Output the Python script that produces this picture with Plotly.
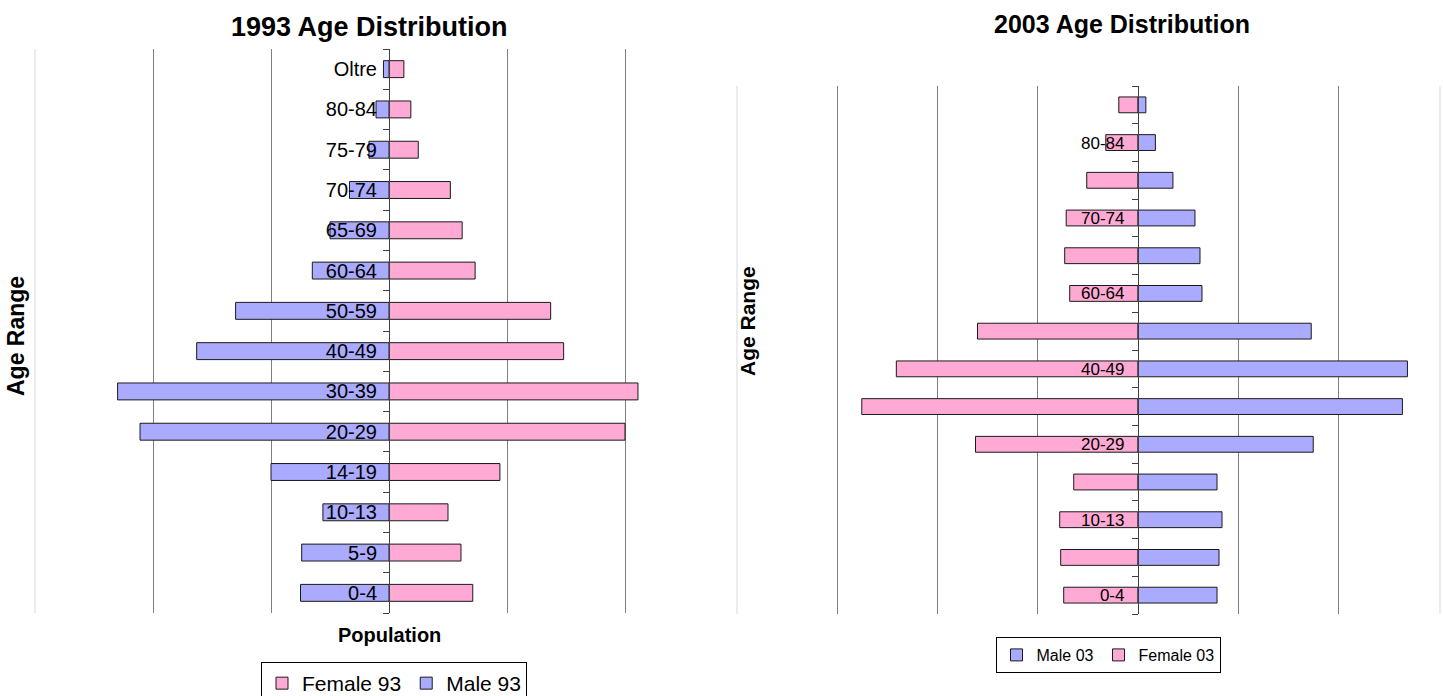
import plotly.graph_objects as go

# Age bands, bottom to top
age_bands = ["0-4", "5-9", "10-13", "14-19", "20-29", "30-39", "40-49",
             "50-59", "60-64", "65-69", "70-74", "75-79", "80-84", "Oltre"]

# 1993 population (thousands); males plotted to the left
male_93 = [0.75, 0.74, 0.56, 1.00, 2.11, 2.30, 1.63, 1.30, 0.65, 0.50, 0.335, 0.17, 0.11, 0.047]
female_93 = [0.71, 0.61, 0.50, 0.94, 2.00, 2.11, 1.48, 1.37, 0.73, 0.62, 0.52, 0.248, 0.185, 0.126]

# 2003 population (thousands); females plotted to the left
male_03 = [0.79, 0.81, 0.84, 0.79, 1.75, 2.64, 2.69, 1.73, 0.64, 0.62, 0.57, 0.35, 0.175, 0.08]
female_03 = [0.74, 0.77, 0.78, 0.64, 1.62, 2.755, 2.41, 1.60, 0.68, 0.73, 0.715, 0.51, 0.32, 0.19]

# 2003 chart only labels every other band
labels_03 = ["0-4", "", "10-13", "", "20-29", "", "40-49",
             "", "60-64", "", "70-74", "", "80-84", ""]

W, H = 1443, 696
BLUE = "#AAAAFF"
PINK = "#FFAAD4"
OUTLINE = "#1a1a1a"
GRID = "#7f7f7f"
EDGE = "#d9d9d9"
AXIS = "#404040"
FONT = "Liberation Sans, Arial, sans-serif"

# plot areas (paper fractions)
rng_x1 = [-3, 2.15]
dom_x1 = [35 / W, (35 + 118 * (rng_x1[1] - rng_x1[0])) / W]
dom_y1 = [(H - 613) / H, (H - 49) / H]
rng_x2 = [-4, 3.015]
dom_x2 = [737 / W, 1440 / W]
dom_y2 = [(H - 614) / H, (H - 86) / H]


def zero_pos(dom, rng):
    """Paper x-position where the value axis crosses zero."""
    return dom[0] + (0 - rng[0]) / (rng[1] - rng[0]) * (dom[1] - dom[0])


fig = go.Figure()
bar_w = 0.42
line = dict(color=OUTLINE, width=1)

fig.add_trace(go.Bar(y=age_bands, x=female_93, orientation="h", name="Female 93",
                     marker=dict(color=PINK, line=line), width=bar_w,
                     xaxis="x", yaxis="y", legend="legend"))
fig.add_trace(go.Bar(y=age_bands, x=[-v for v in male_93], orientation="h", name="Male 93",
                     marker=dict(color=BLUE, line=line), width=bar_w,
                     xaxis="x", yaxis="y", legend="legend"))
fig.add_trace(go.Bar(y=age_bands, x=male_03, orientation="h", name="Male 03",
                     marker=dict(color=BLUE, line=line), width=bar_w,
                     xaxis="x2", yaxis="y2", legend="legend2"))
fig.add_trace(go.Bar(y=age_bands, x=[-v for v in female_03], orientation="h", name="Female 03",
                     marker=dict(color=PINK, line=line), width=bar_w,
                     xaxis="x2", yaxis="y2", legend="legend2"))

xcommon = dict(showticklabels=False, ticks="", showline=False, zeroline=False,
               showgrid=True, gridcolor=GRID, gridwidth=1, tickmode="array")
ycommon = dict(type="category", categoryorder="array", categoryarray=age_bands,
               showgrid=False, zeroline=False, showline=True, linecolor=AXIS,
               linewidth=1, ticks="outside", ticklen=6, tickcolor=AXIS,
               tickson="boundaries", anchor="free", layer="above traces")

fig.update_layout(
    width=W, height=H,
    margin=dict(l=0, r=0, t=0, b=0, autoexpand=False),
    paper_bgcolor="white", plot_bgcolor="white",
    barmode="overlay",
    showlegend=True,
    xaxis=dict(domain=dom_x1, range=rng_x1, tickvals=[-2, -1, 1, 2], anchor="y", **xcommon),
    yaxis=dict(domain=dom_y1, position=zero_pos(dom_x1, rng_x1), ticklabelstandoff=8,
               tickfont=dict(family=FONT, size=20, color="black"), **ycommon),
    xaxis2=dict(domain=dom_x2, range=rng_x2, tickvals=[-3, -2, -1, 1, 2], anchor="y2", **xcommon),
    yaxis2=dict(domain=dom_y2, position=zero_pos(dom_x2, rng_x2), ticklabelstandoff=10,
                tickvals=age_bands, ticktext=labels_03,
                tickfont=dict(family=FONT, size=17, color="black"), **ycommon),
    legend=dict(orientation="h", x=394 / W, xanchor="center", y=(H - 662) / H, yanchor="top",
                bordercolor="black", borderwidth=1, bgcolor="white",
                font=dict(family=FONT, size=21, color="black"), traceorder="normal"),
    legend2=dict(orientation="h", x=1108 / W, xanchor="center", y=(H - 637) / H, yanchor="top",
                 bordercolor="black", borderwidth=1, bgcolor="white",
                 font=dict(family=FONT, size=16, color="black"), traceorder="normal"),
    annotations=[
        dict(text="<b>1993 Age Distribution</b>", x=369 / W, y=(H - 27) / H, xref="paper", yref="paper",
             showarrow=False, xanchor="center", yanchor="middle",
             font=dict(family=FONT, size=27, color="black")),
        dict(text="<b>2003 Age Distribution</b>", x=1122 / W, y=(H - 24) / H, xref="paper", yref="paper",
             showarrow=False, xanchor="center", yanchor="middle",
             font=dict(family=FONT, size=25, color="black")),
        dict(text="<b>Population</b>", x=389 / W, y=(H - 635) / H, xref="paper", yref="paper",
             showarrow=False, xanchor="center", yanchor="middle",
             font=dict(family=FONT, size=20, color="black")),
        dict(text="<b>Age Range</b>", x=16 / W, y=(H - 336) / H, xref="paper", yref="paper",
             showarrow=False, xanchor="center", yanchor="middle", textangle=-90,
             font=dict(family=FONT, size=23, color="black")),
        dict(text="<b>Age Range</b>", x=748 / W, y=(H - 321) / H, xref="paper", yref="paper",
             showarrow=False, xanchor="center", yanchor="middle", textangle=-90,
             font=dict(family=FONT, size=21, color="black")),
    ],
    shapes=[
        dict(type="line", xref="x domain", yref="y domain", x0=0, x1=0, y0=0, y1=1,
             line=dict(color=EDGE, width=1), layer="below"),
        dict(type="line", xref="x2 domain", yref="y2 domain", x0=0, x1=0, y0=0, y1=1,
             line=dict(color=EDGE, width=1), layer="below"),
        dict(type="line", xref="x2 domain", yref="y2 domain", x0=1, x1=1, y0=0, y1=1,
             line=dict(color=EDGE, width=1), layer="below"),
    ],
)

fig.write_html("out.html")
